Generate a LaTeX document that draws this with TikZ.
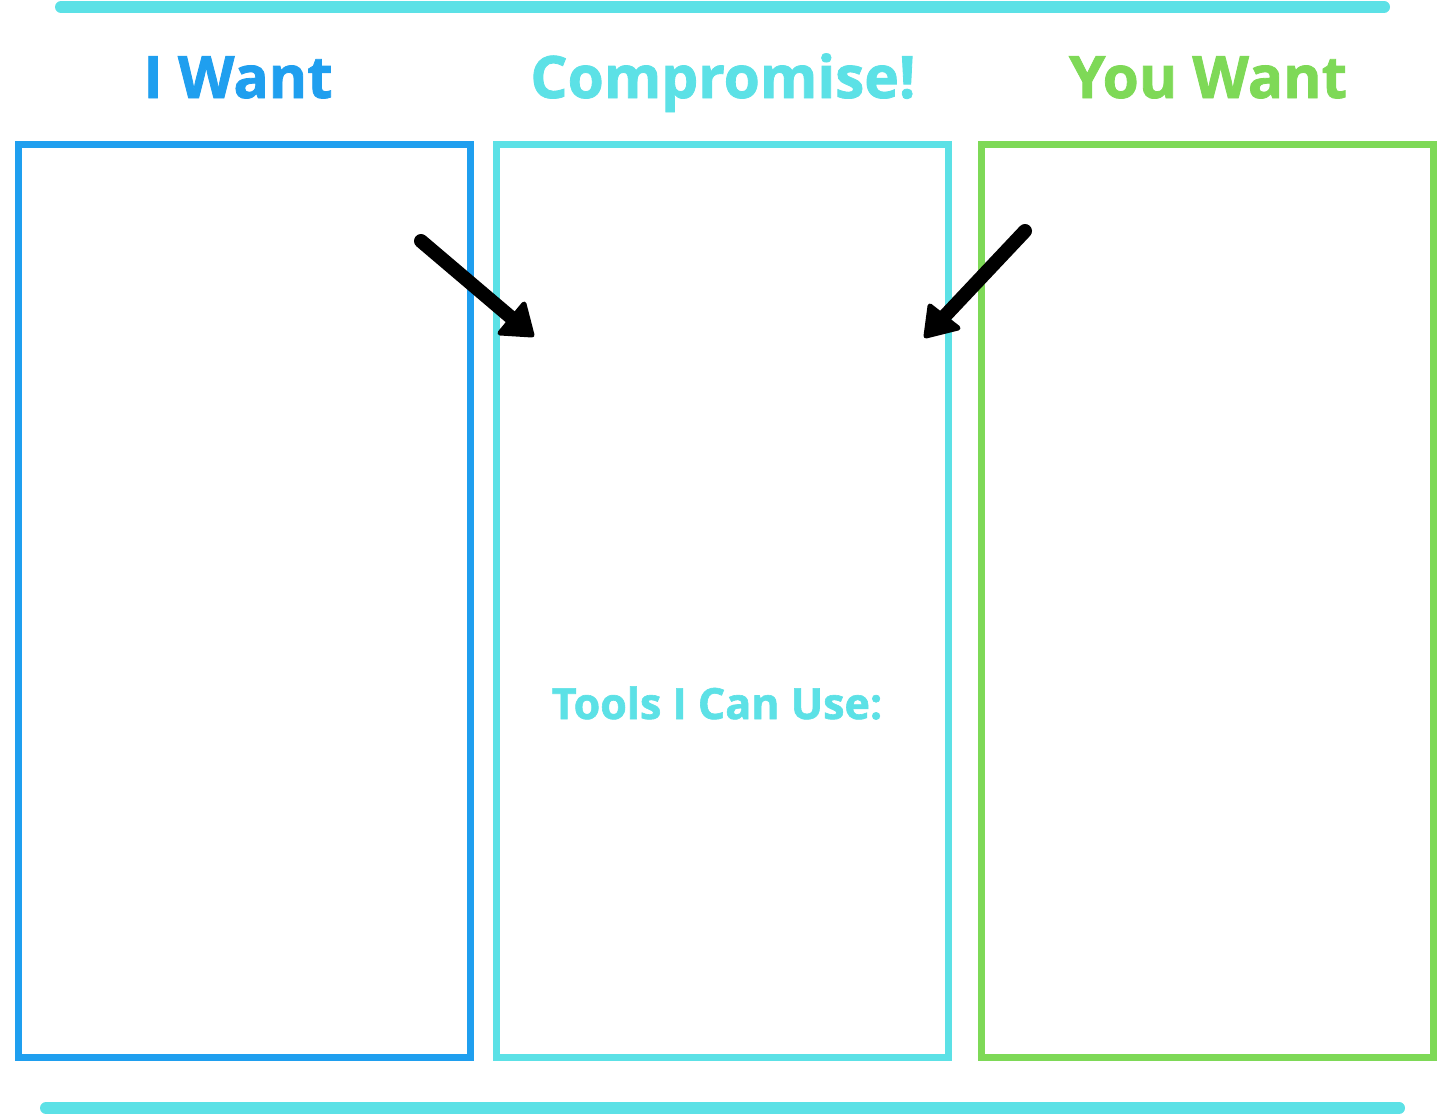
\documentclass[tikz,border=0pt]{standalone}
\usepackage{fontspec}
\setmainfont{Open Sans}[BoldFeatures={FakeBold=1.4}]
\usetikzlibrary{positioning,arrows.meta}
\definecolor{wBlue}{RGB}{31,159,239}
\definecolor{wCyan}{RGB}{92,225,230}
\definecolor{wGreen}{RGB}{126,217,87}
\tikzset{
  panel/.style={rectangle, draw=#1, line width=7pt, fill=white,
                minimum width=452pt, minimum height=913pt, inner sep=0pt},
  heading/.style={anchor=base, text=#1, inner sep=0pt,
                  font=\fontsize{58.5}{62}\selectfont\bfseries},
  barline/.style={draw=wCyan, line width=12pt, line cap=round},
  pointer/.style={draw=black, line width=14pt, line cap=round},
  pointhead/.style={draw=black, fill=black, line width=5pt, line join=round},
}
\begin{document}
\begin{tikzpicture}[x=1pt,y=-1pt]
  \useasboundingbox (0,0) rectangle (1445,1116);
  % rules top and bottom
  \coordinate (topL) at (61,7);   \coordinate (topR) at (1384,7);
  \coordinate (botL) at (46,1108); \coordinate (botR) at (1399,1108);
  \draw[barline] (topL) -- (topR);
  \draw[barline] (botL) -- (botR);
  % three columns
  \node[panel=wBlue]  (mine)   at (244,600.5) {};
  \node[panel=wCyan]  (middle) at (722.5,600.5) {};
  \node[panel=wGreen] (yours)  at (1207.5,600.5) {};
  \node[heading=wBlue]  (hMine)   at (238,98)  {I Want};
  \node[heading=wCyan]  (hMiddle) at (723,98)  {Compromise!};
  \node[heading=wGreen] (hYours)  at (1208,98) {You Want};
  \node[heading=wCyan, font=\fontsize{43}{47}\selectfont\bfseries]
       (tools) at (717,719) {Tools I Can Use:};
  % arrows into the middle
  \coordinate (aStart) at (421,241); \coordinate (aBase) at (514,320);
  \coordinate (aTip) at (532,335);
  \coordinate (aL) at (500,333); \coordinate (aR) at (524,304);
  \coordinate (bStart) at (1025,231); \coordinate (bBase) at (943,318);
  \coordinate (bTip) at (926,336);
  \coordinate (bL) at (930,306); \coordinate (bR) at (958,328);
  \draw[pointer] (aStart) -- (aBase);
  \draw[pointer] (bStart) -- (bBase);
  \filldraw[pointhead] (aTip) -- (aL) -- (aR) -- cycle;
  \filldraw[pointhead] (bTip) -- (bL) -- (bR) -- cycle;
\end{tikzpicture}
\end{document}
